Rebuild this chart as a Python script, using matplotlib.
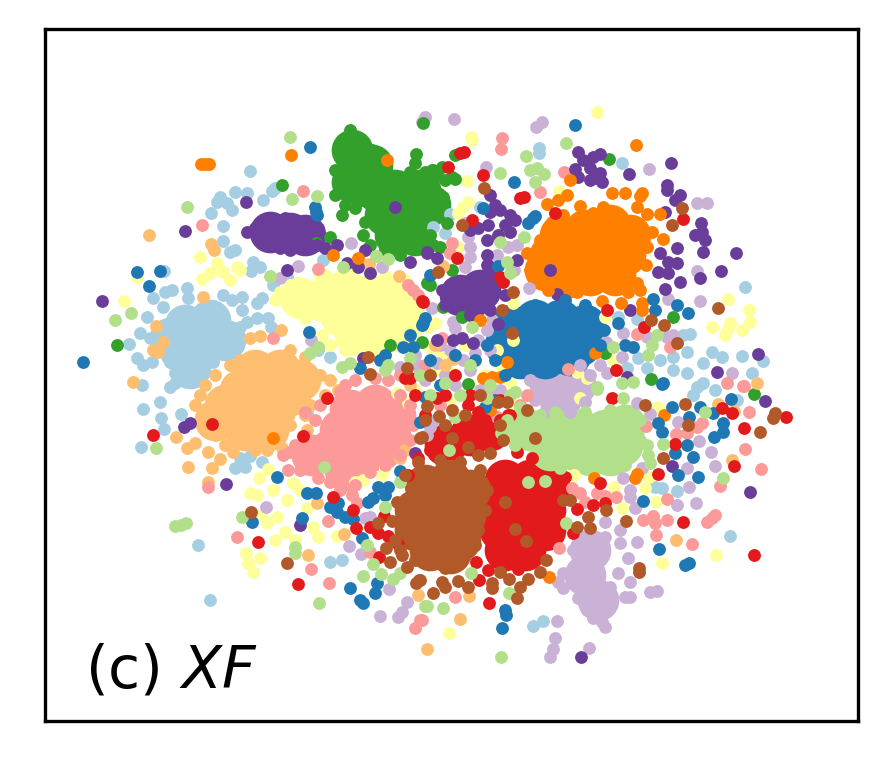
import matplotlib
matplotlib.use('Agg')
import matplotlib.pyplot as plt

# values, in picture position units.
# *_core: the packed middle of a cluster, where single points can't be told apart,
# drawn as fewer wider dots. *_pts: the points that can be seen on their own.
light_blue_core = [(185,325),(210,320),(180,350),(205,345),(225,340),(190,368),(170,338)]
light_blue_pts = [(250,171),(275,188),(272,191),(263,200),(220,197),(235,192),(247,193),(227,203),(217,202),(232,210),(211,213),(223,226),(223,241),(230,252),(235,250),(253,262),(260,267),(251,271),(164,271),(165,292),(172,290),(187,288),(188,298),(153,298),(163,307),(223,295),(232,300),(242,297),(262,298),(257,303),(242,310),(257,318),(247,322),(240,327),(268,318),(271,327),(147,317),(140,333),(150,338),(129,344),(137,358),(152,362),(143,365),(170,362),(175,373),(188,375),(200,372),(213,362),(227,353),(142,385),(175,383),(170,387),(318,350),(330,357),(323,260),(287,277),(273,285),
    (160,402),(143,409),(161,418),(164,429),(181,414),(141,447),(198,545),(210,600),(240,458),(250,456),(235,468),(245,467),(262,462),(330,562),(342,560),(307,413),
    (539,148),(539,153),(622,163),(745,287),(480,207),(450,214),(433,227),(445,233),(763,361),(742,356),(752,373),(638,358),(647,368),(660,360),(673,357),(687,352),(673,370),(687,373),(703,363),(712,352),(722,357),(703,383),(690,334),(683,335),(618,317),(637,319),(627,368),(697,387),(693,395),(715,390),(737,400),(662,488),(655,487),(677,491),(730,536),(533,626),(543,621)]

blue_core = [(510,325),(535,320),(560,320),(585,325),(505,345),(530,345),(555,345),(580,345),(520,358),(545,358),(570,355)]
blue_pts = [(83,362),(310,147),(137,272),(160,271),(149,286),(309,332),(315,207),(316,212),(317,215),(575,125),(514,182),(533,218),(528,223),(535,216),(653,299),(655,310),(677,305),(688,313),(618,323),(625,345),(633,347),(498,266),(663,383),
    (604,330),(600,345),(487,345),(495,360),(505,375),(535,305),(565,300),(585,305),
    (425,397),(485,407),(662,384),(672,407),(700,407),(713,413),(731,399),(689,417),(658,423),(662,432),(723,423),(723,432),(714,437),(687,445),(675,453),(693,457),(678,475),(698,477),(643,501),(659,549),(685,565),(689,563),(506,615),(505,610),(502,628),
    (277,477),(316,493),(307,493),(252,522),(302,518),(400,471),(330,507),(338,503),(337,512),(345,517),(353,519),(362,538),(378,487),(388,487),(373,498),(385,495),(368,502),(377,583),(375,593),(350,588),(360,600),(363,603),(420,422),
    (403,347),(413,347),(425,318),(422,325),(410,335),(380,360),(385,355),(360,368),(430,275),(423,323),(483,208),
    (440,385),(475,360),(430,360),(455,355),(495,400)]

light_green_core = [(530,430),(555,430),(580,430),(605,430),(625,425),(550,450),(575,450),(600,450),(622,445),(590,455),(610,455),(520,425)]
light_green_pts = [(290,137),(187,207),(292,199),(317,196),(115,320),(131,313),(270,276),(343,267),(376,256),(388,259),(342,367),(350,363),(388,365),(385,370),(410,358),(310,353),(318,347),
    (566,143),(526,156),(500,173),(530,170),(537,168),(544,174),(535,182),(524,237),(500,242),(507,262),(510,273),(657,335),(652,345),(648,355),(613,347),(472,327),(445,383),(597,387),(633,382),(622,383),
    (156,448),(181,525),(175,526),(186,523),(242,517),(295,553),(295,547),(319,603),(324,467),(400,482),(385,507),(367,545),(373,564),(381,574),(363,576),(393,579),(400,573),(425,606),
    (427,606),(443,608),(501,657),(528,482),(545,481),(471,573),(509,593),(566,523),(449,450),(501,433),(520,407),(487,398),(515,392),(597,389),(623,398),(455,417),(663,444),(647,445),(648,455),(650,463),(723,478),(705,412),
    (510,430),(507,420),(515,445),(560,468),(625,465),(640,440),(640,420),(610,410),(585,412),(555,412),(540,415),
    (430,395),(420,375),(470,365),(490,385),(510,395),(460,395)]

green_core = [(352,150),(362,170),(352,182),(375,190),(395,190),(420,190),(385,215),(410,215),(430,205),(395,235),(415,235),(372,165)]
green_pts = [(350,130),(345,140),(340,145),(335,170),(340,180),(335,195),(345,205),(342,215),(355,208),(362,200),(343,192),(375,162),(372,150),(385,165),(390,175),(416,154),(415,163),(410,172),(395,178),(365,222),(363,235),(370,245),(385,250),(400,255),(395,245),(420,242),(430,235),(445,180),(437,175),(432,170),(425,172),
    (442,167),(433,170),(452,177),(455,179),(443,197),(435,210),(447,223),(433,245),(440,247),(425,240),
    (282,185),(117,345),(423,123),(330,237),(316,243),(609,159),(673,317),(651,379),(605,353),(754,394),(468,384),(452,270),(430,285),(443,307),(462,317),(422,342),(427,283),(390,345),(455,155)]

pink_core = [(350,410),(375,405),(395,415),(340,430),(365,430),(390,435),(330,450),(355,455),(380,450),(345,470),(312,455)]
pink_pts = [(388,380),(345,385),(340,392),(320,405),(355,380),(375,378),(400,395),(410,405),(413,425),(410,440),(400,455),(385,465),(370,472),(355,485),(340,490),(330,482),(318,478),(300,470),(290,452),(283,455),(288,470),(295,445),(305,435),(315,420),(305,412),
    (202,225),(303,191),(273,338),(318,269),(408,285),(413,290),(418,295),(502,138),(501,149),(540,192),(564,172),(452,243),(450,253),(637,334),(670,347),(727,383),(743,386),(568,369),(442,338),
    (208,487),(237,537),(328,521),(311,569),(329,583),(352,495),(357,503),(370,552),(455,597),(422,620),(420,620),(415,628),(559,548),(572,488),(580,493),(585,502),(597,493),(616,497),(605,496),(702,423),(697,427),(676,434),(687,433),(646,426),(745,449),(761,469),(749,412),(744,386),(720,486),(667,499),(643,520),(653,516),(655,523),(656,535),(667,520),(692,544),(707,522),(715,515),(712,518),(527,395),(497,417),
    (400,375),(440,405),(520,405),(425,365)]

red_core = [(505,480),(530,480),(550,490),(495,505),(520,505),(545,510),(500,530),(525,530),(545,530),(505,550),(525,550),(470,435),(445,445),(490,430)]
red_pts = [(565,477),(600,483),(593,505),(605,503),(577,509),(573,533),(563,523),(553,480),(476,562),(488,570),(479,580),(489,603),(518,569),(533,560),
    (430,450),(440,445),(450,432),(465,437),(475,450),(490,445),(485,430),(500,420),(463,437),(470,425),(478,412),(435,455),(458,452),(500,400),(510,415),(470,395),(517,452),(532,458),
    (422,301),(405,378),(410,378),(327,398),(212,424),(153,435),(303,436),(258,542),(298,584),(333,497),(353,510),(356,528),(384,516),(370,527),(378,533),(388,536),(398,544),(379,557),(408,475),(418,458),
    (460,153),(464,152),(483,175),(524,197),(520,198),(555,213),(472,220),(457,258),(500,277),(503,282),(448,167),(607,310),(644,327),(683,219),(616,370),(423,302),
    (744,428),(734,466),(754,555),(786,417),(683,522),(675,444),(658,474),(722,408),(732,413),(437,398),(468,405),(508,415),(612,398),
    (445,395),(425,415),(455,375),(485,420),(440,435),(415,395)]

light_orange_core = [(255,370),(280,370),(300,380),(240,390),(265,390),(290,395),(225,405),(250,410),(275,410),(245,430),(268,430),(215,420)]
light_orange_pts = [(260,336),(250,338),(281,330),(290,350),(305,357),(320,375),(330,380),(325,395),(310,405),(305,415),(290,425),(270,445),(255,450),(237,440),(225,445),(215,435),(205,420),(195,405),(200,395),(205,385),(215,375),(230,365),(240,360),
    (149,235),(211,244),(214,250),(203,297),(156,326),(163,342),(153,350),(158,352),(133,382),(369,264),(399,276),
    (176,437),(187,448),(195,443),(208,452),(220,459),(188,467),(212,468),(208,482),(233,452),(267,450),(282,448),(250,442),(317,503),(344,534),(308,555),(400,458),(405,450),(418,595),(338,390),(307,430),
    (427,649),(460,619),(469,596),(732,460),(676,540),(718,404),(734,411),(757,383),(453,359),(443,266),
    (435,345),(410,385),(445,365)]

orange_core = [(560,235),(585,230),(610,225),(630,235),(550,255),(575,255),(600,250),(625,255),(565,278),(590,275),(615,275),(545,270)]
orange_pts = [(612,193),(625,193),(642,193),(640,196),(647,214),(652,232),(663,239),(580,206),(567,195),(558,200),(547,204),(637,207),(603,207),(527,253),(530,270),(535,277),(548,290),(577,292),(602,301),(621,303),(642,303),(642,310),(640,290),(628,292),(647,247),(646,265),(637,283),(540,240),(552,222),(563,215),(593,213),(636,145),(660,214),(570,180),
    (205,164),(201,164),(209,164),(291,155),(387,160),(333,255),(358,258),(483,378),(492,377),(500,377),(480,320),(507,362),(595,353),(635,478),(637,474),(594,478),(549,577),(664,415),(482,410),(490,410),(273,438)]

light_purple_core = [(590,550),(585,575),(598,600),(550,385),(575,385),(560,400)]
light_purple_pts = [(590,537),(605,537),(620,530),(605,522),(620,543),(573,550),(577,563),(563,573),(558,582),(563,588),(618,573),(630,582),(610,587),(628,558),(637,542),(578,598),(587,610),(597,607),(605,612),(593,618),(605,627),(602,622),(625,597),(630,597),(650,592),(657,591),(557,621),(555,638),(550,657),(553,649),(589,648),
    (630,490),(630,497),(635,508),(623,478),(642,468),(689,487),(677,505),(696,503),(711,452),(715,466),(687,468),(699,441),(678,422),(650,414),(637,403),
    (425,117),(422,122),(454,119),(542,122),(536,127),(486,167),(649,169),(697,203),(707,203),(697,271),(700,301),(668,299),(732,373),(667,337),(673,335),(647,337),(623,333),(606,342),(622,357),(468,237),(470,247),(465,267),(470,257),(465,223),(517,245),(508,247),(497,255),(514,270),(529,288),
    (463,360),(475,353),(437,363),(487,330),(492,320),(580,365),(600,365),(607,373),(432,308),(455,328),(453,322),(351,243),(298,266),(280,278),(311,340),(382,267),(400,367),(418,365),(420,372),
    (266,507),(349,546),(361,554),(389,589),(407,602),(402,612),(398,617),(380,616),(365,518),(370,517),(430,427),(427,435),(427,420),(480,390),(500,390),
    (530,380),(590,375),(535,400),(585,402),(545,412),(570,412),
    (440,345),(470,370),(490,350),(445,375),(435,420),(455,385),(490,395),(478,340),(450,350),(425,380),(415,355)]

purple_core = [(270,232),(290,233),(305,235),(460,295),(480,290),(470,298)]
purple_pts = [(247,232),(255,228),(262,222),(270,218),(285,218),(295,220),(305,222),(318,228),(310,245),(290,250),(280,248),
    (442,290),(450,285),(500,280),(505,295),(490,310),(470,315),(445,305),(495,270),(488,265),(488,225),(487,240),(487,255),(487,265),(490,270),(490,195),(495,205),(500,210),(490,212),(510,215),(515,220),(505,225),(498,235),(510,232),(478,228),(470,230),
    (578,152),(583,160),(593,157),(600,154),(575,169),(578,177),(590,168),(590,180),(600,173),(602,182),(595,178),(629,174),(671,163),(667,185),(667,190),(675,200),(680,195),(665,212),(701,223),(695,235),(705,240),(702,232),(703,252),(736,253),(721,271),(700,278),(660,253),(677,248),(668,262),(677,263),(658,272),(668,273),(680,282),(665,289),(557,294),(630,310),(758,354),(717,372),(627,377),(498,324),(453,340),(462,338),(473,343),(437,340),(550,270),(517,260),(427,252),(437,258),
    (102,301),(185,231),(246,202),(287,270),(337,245),(365,250),(347,263),(358,267),(370,273),(395,207),(317,245),(325,248),(410,262),(427,253),(363,358),
    (184,427),(190,423),(226,484),(300,525),(415,453),(581,657),(750,492),(672,466),(765,401)]

yellow_core = [(300,298),(320,300),(345,290),(370,295),(395,295),(340,315),(365,315),(390,320),(355,335),(380,335),(405,320)]
yellow_pts = [(280,292),(275,300),(290,285),(300,305),(305,318),(322,335),(330,345),(345,350),(362,350),(378,352),(395,345),(410,345),(420,315),(415,300),(405,280),(385,275),(350,272),(320,275),(297,283),(325,275),(370,280),
    (200,257),(217,263),(237,267),(210,273),(223,272),(202,279),(230,280),(240,270),(124,301),(137,277),
    (471,137),(472,140),(467,181),(597,112),(559,191),(463,207),(458,213),(468,202),(458,247),(712,327),(728,299),(749,310),(750,322),(742,330),(725,335),(730,323),(728,328),(513,303),(605,317),(500,366),(510,383),(577,372),(587,378),(613,360),(428,327),(435,323),(430,347),(452,373),(513,340),
    (259,478),(268,469),(250,493),(257,495),(273,490),(287,500),(293,483),(300,490),(307,508),(262,515),(267,523),(277,517),(275,540),(285,532),(295,540),(313,527),(318,537),(337,536),(246,553),(260,558),(248,563),(253,572),(355,482),(363,480),(385,467),(382,475),(397,393),(408,403),(415,390),
    (449,633),(580,398),(614,487),(622,508),(645,488),(649,477),(656,502),(662,563),(716,555),(658,407),(513,403),(574,475),
    (440,355),(465,345),(485,375),(470,385),(435,370),(420,395),(497,350),(450,400)]

brown_core = [(425,485),(450,480),(470,490),(415,510),(440,505),(465,515),(415,530),(440,530),(460,540),(430,550),(450,553)]
brown_pts = [(397,502),(392,521),(405,475),(418,462),(440,460),(460,462),(480,470),(487,490),(485,510),(478,530),(475,545),(465,555),(445,568),(430,560),(415,560),(402,555),(395,540),(400,550),
    (419,580),(416,583),(407,567),(390,562),(386,548),(378,523),(251,512),(287,563),(420,438),
    (433,593),(442,582),(445,587),(458,581),(468,587),(492,583),(492,588),(500,572),(509,579),(520,587),(517,598),(528,579),(540,572),(546,560),(505,502),(515,529),(526,541),(639,572),(639,568),(626,521),(590,528),(588,517),(577,527),(606,510),(570,500),(563,500),(663,458),(685,404),(688,425),(645,405),(760,432),(775,413),(773,418),(535,438),(422,437),(452,438),(439,416),(427,406),(452,410),(498,402),(507,402),(527,410),(468,447),(490,453),(478,455),(503,440),(420,580),
    (484,188),(718,308),(682,208),(672,225),(651,320),(664,325),(677,343),(513,292),(502,310),(438,272),(462,225),(512,333),(368,357),(370,374),(407,368),
    (430,375),(480,395),(465,415),(445,425),(425,420),(500,425)]

# layer order, bottom first
series = [
    (light_blue_core, light_blue_pts, '#a6cee3'),
    (yellow_core, yellow_pts, '#ffff99'),
    (light_purple_core, light_purple_pts, '#cab2d6'),
    (green_core, green_pts, '#33a02c'),
    (light_orange_core, light_orange_pts, '#fdbf6f'),
    (pink_core, pink_pts, '#fb9a99'),
    (purple_core, purple_pts, '#6a3d9a'),
    (orange_core, orange_pts, '#ff7f00'),
    (blue_core, blue_pts, '#1f78b4'),
    (red_core, red_pts, '#e31a1c'),
    (light_green_core, light_green_pts, '#b2df8a'),
    (brown_core, brown_pts, '#b15928'),
]

fig = plt.figure(figsize=(888 / 300, 767 / 300), dpi=300)
ax = fig.add_axes([45 / 888, 46 / 767, 813 / 888, 692 / 767])

for core, pts, color in series:
    ax.scatter([p[0] for p in core], [p[1] for p in core], s=100, c=color, linewidths=0, zorder=2)
for core, pts, color in series:
    ax.scatter([p[0] for p in pts], [p[1] for p in pts], s=9.5, c=color, linewidths=0, zorder=3)

ax.set_xlim(45, 858)
ax.set_ylim(721, 29)
ax.set_xticks([])
ax.set_yticks([])
ax.text(85, 687, r'(c) $\mathit{XF}$', fontsize=14, color='black', zorder=5)

plt.savefig('out.png', dpi=300)
